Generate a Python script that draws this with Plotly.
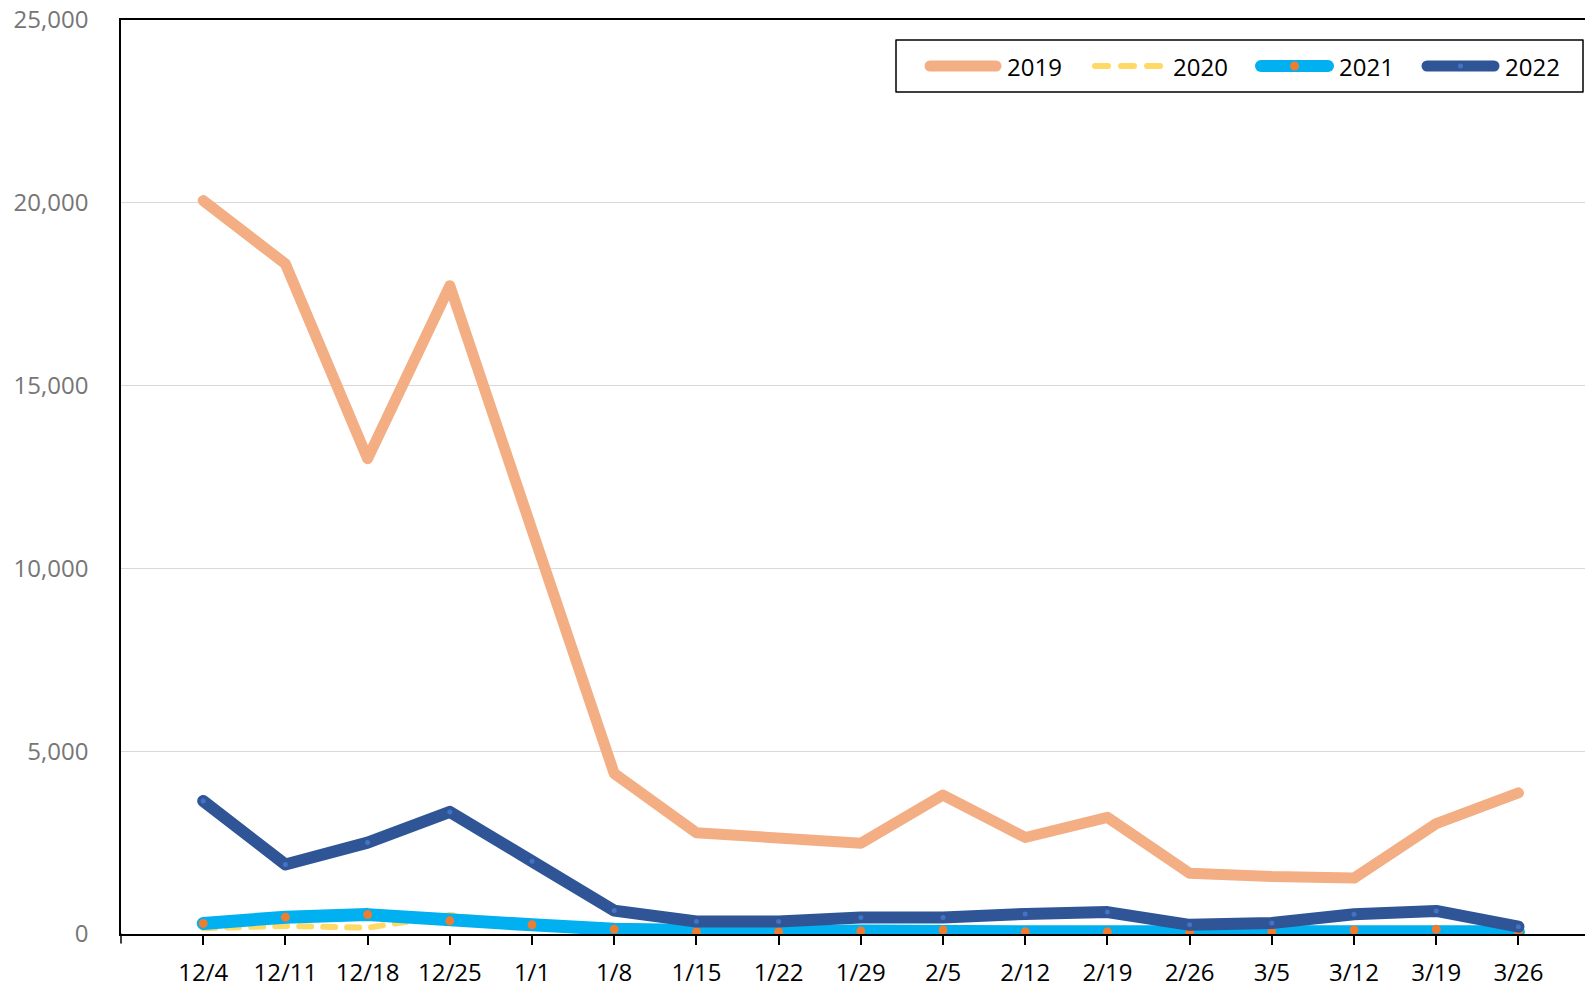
import plotly.graph_objects as go

categories = ["12/4", "12/11", "12/18", "12/25", "1/1", "1/8", "1/15", "1/22", "1/29",
              "2/5", "2/12", "2/19", "2/26", "3/5", "3/12", "3/19", "3/26"]
y2019 = [20060, 18330, 13000, 17730, 11050, 4390, 2770, 2610, 2480, 3800, 2640, 3190, 1660, 1570, 1530, 3020, 3860]
y2020 = [160, 220, 170, 520, 250, 100, 60, 60, 70, 80, 60, 60, 50, 50, 80, 100, 50]
y2021 = [290, 460, 530, 360, 250, 130, 60, 60, 80, 110, 60, 60, 60, 60, 110, 130, 60]
y2022 = [3640, 1900, 2500, 3340, 1990, 640, 340, 340, 450, 450, 550, 600, 250, 300, 540, 630, 200]
series_names = ["2019", "2020", "2021", "2022"]
y_ticks = [0, 5000, 10000, 15000, 20000, 25000]

C2019 = "#F4AE84"
C2020 = "#FFD966"
C2021 = "#00B0F0"
C2021M = "#ED7D31"
C2022 = "#2F5597"
C2022M = "#4472C4"
FONT = "Open Sans"

W, H = 1585, 989
L, R, T, B = 121, 0, 20, 55
PW, PH = W - L - R, H - T - B


def px(x):
    return (x - L) / PW


def py(y):
    return (H - B - y) / PH


fig = go.Figure()
fig.add_trace(go.Scatter(x=categories, y=y2019, name=series_names[0], mode="lines",
                         line=dict(color=C2019, width=11), showlegend=False))
fig.add_trace(go.Scatter(x=categories, y=y2020, name=series_names[1], mode="lines",
                         line=dict(color=C2020, width=6, dash="12px,12px"), showlegend=False))
fig.add_trace(go.Scatter(x=categories, y=y2021, name=series_names[2], mode="lines+markers",
                         line=dict(color=C2021, width=13),
                         marker=dict(color=C2021M, size=9), showlegend=False))
fig.add_trace(go.Scatter(x=categories, y=y2022, name=series_names[3], mode="lines+markers",
                         line=dict(color=C2022, width=12),
                         marker=dict(color=C2022M, size=5), showlegend=False))

# custom legend (Excel style)
shapes = []
annotations = []
shapes.append(dict(type="rect", xref="paper", yref="paper", x0=px(896), x1=px(1583),
                   y0=py(40), y1=py(92), line=dict(color="black", width=1.5),
                   fillcolor="white", layer="above"))
ly = 66
items = [
    (series_names[0], C2019, 11, "solid", 930, 996, None, 0, 1005),
    (series_names[1], C2020, 6, "13px,13px", 1095, 1161, None, 0, 1171),
    (series_names[2], C2021, 12, "solid", 1261, 1328, C2021M, 9, 1337),
    (series_names[3], C2022, 11, "solid", 1427, 1494, C2022M, 5, 1503),
]
for name, col, lw, dash, xa, xb, mcol, msz, tx in items:
    shapes.append(dict(type="line", xref="paper", yref="paper", x0=px(xa), x1=px(xb),
                       y0=py(ly), y1=py(ly), line=dict(color=col, width=lw, dash=dash),
                       layer="above"))
    if mcol:
        xm = (xa + xb) / 2
        shapes.append(dict(type="circle", xref="paper", yref="paper",
                           xsizemode="pixel", ysizemode="pixel",
                           xanchor=px(xm), yanchor=py(ly),
                           x0=-msz / 2, x1=msz / 2, y0=-msz / 2, y1=msz / 2,
                           fillcolor=mcol, line=dict(width=0), layer="above"))
    annotations.append(dict(text=name, xref="paper", yref="paper", x=px(tx), y=py(ly),
                            xanchor="left", yanchor="middle", showarrow=False,
                            font=dict(family=FONT, size=24, color="black")))

# small tick at the left end of the category axis
shapes.append(dict(type="line", xref="paper", yref="paper", ysizemode="pixel", yanchor=0,
                   x0=0, x1=0, y0=0, y1=-9, line=dict(color="black", width=1.5)))

fig.update_layout(
    width=W, height=H, autosize=False,
    margin=dict(l=L, r=R, t=T, b=B, pad=0),
    paper_bgcolor="white", plot_bgcolor="white",
    font=dict(family=FONT, size=24, color="black"),
    shapes=shapes, annotations=annotations,
    showlegend=False,
)
fig.update_xaxes(
    type="category", range=[-1, 16.81],
    tickmode="array", tickvals=categories, ticktext=categories,
    showline=True, linecolor="black", linewidth=1.5, mirror=True,
    ticks="outside", ticklen=9, tickwidth=1.5, tickcolor="black",
    showgrid=False, zeroline=False, ticklabelstandoff=7,
    tickfont=dict(family=FONT, size=24, color="black"),
)
fig.update_yaxes(
    range=[0, 25000], tickmode="array", tickvals=y_ticks, tickformat=",",
    showline=True, linecolor="black", linewidth=1.5,
    showgrid=True, gridcolor="#D9D9D9", gridwidth=1, zeroline=False,
    ticks="", ticklabelstandoff=26,
    tickfont=dict(family=FONT, size=24, color="#767676"),
)

post = """
document.body.style.margin='0px';
document.body.style.overflow='hidden';
document.querySelectorAll('.scatterlayer .js-line, .shapelayer path').forEach(function(p){
  p.style.strokeLinejoin='round'; p.style.strokeLinecap='round';
});
"""
fig.write_html("out.html", post_script=post, config={"displayModeBar": False})
